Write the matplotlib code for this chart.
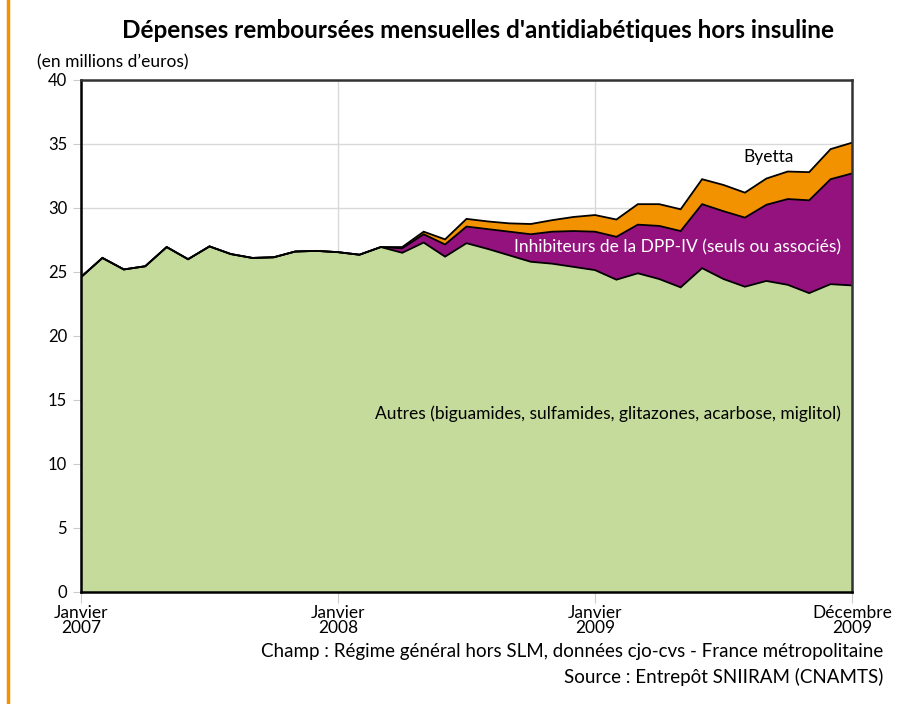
import numpy as np
import matplotlib
matplotlib.use("Agg")
from matplotlib import pyplot as plt
from matplotlib.lines import Line2D

plt.rcParams['font.family'] = ['Lato', 'DejaVu Sans']

# monthly values, Jan 2007 .. end 2009 (millions of euros)
autres = [24.6, 26.1, 25.2, 25.45, 26.95, 26.0, 27.0, 26.4, 26.1, 26.15, 26.6, 26.65,
          26.55, 26.35, 26.95, 26.5, 27.3, 26.2, 27.25, 26.8, 26.3, 25.8, 25.65, 25.4,
          25.15, 24.4, 24.9, 24.45, 23.8, 25.3, 24.45, 23.85, 24.3, 24.0, 23.35, 24.05, 23.95]
dpp4 = [0, 0, 0, 0, 0, 0, 0, 0, 0, 0, 0, 0,
        0, 0, 0, 0.35, 0.65, 0.95, 1.3, 1.55, 1.85, 2.15, 2.5, 2.8,
        3.0, 3.35, 3.8, 4.15, 4.4, 5.0, 5.3, 5.4, 5.95, 6.7, 7.25, 8.2, 8.75]
byetta = [0, 0, 0, 0, 0, 0, 0, 0, 0, 0, 0, 0,
          0, 0, 0, 0.1, 0.2, 0.4, 0.6, 0.6, 0.65, 0.8, 0.9, 1.1,
          1.3, 1.35, 1.6, 1.7, 1.7, 1.95, 2.05, 1.95, 2.05, 2.15, 2.2, 2.35, 2.4]
tick_pos = [0, 12, 24, 36]
tick_labels = ['Janvier\n2007', 'Janvier\n2008', 'Janvier\n2009', 'Décembre\n2009']

x = np.arange(len(autres))
c_green, c_purple, c_orange = '#c5db9b', '#93127e', '#f39200'

fig = plt.figure(figsize=(9.12, 7.04), dpi=100)
ax = fig.add_axes([81/912, 1-592/704, (852-81)/912, (592-80)/704])

ax.stackplot(x, autres, dpp4, byetta, colors=[c_green, c_purple, c_orange], zorder=2)
# outline of each layer
top1 = np.array(autres)
top2 = top1 + np.array(dpp4)
top3 = top2 + np.array(byetta)
for t in (top1, top2, top3):
    ax.plot(x, t, color='black', lw=1.3, zorder=3, solid_joinstyle='miter')

ax.set_xlim(0, 36)
ax.set_ylim(0, 40)
ax.set_yticks(range(0, 41, 5))
ax.set_xticks(tick_pos)
ax.set_xticklabels(tick_labels, fontsize=12.5, linespacing=0.95)
ax.tick_params(axis='y', labelsize=12, length=6, color='#cccccc', pad=4)
ax.tick_params(axis='x', length=8, color='#cccccc', pad=1)
ax.grid(True, color='#d9d9d9', lw=1, zorder=0)
ax.set_axisbelow(True)
for s in ('left', 'bottom'):
    ax.spines[s].set_color('black')
    ax.spines[s].set_linewidth(1.8)
for s in ('top', 'right'):
    ax.spines[s].set_color('#333333')
    ax.spines[s].set_linewidth(1.8)
for s in ax.spines.values():
    s.set_zorder(5)

ax.text(32.1, 34.0, 'Byetta', fontsize=12.5, ha='center', va='center', zorder=4)
ax.text(35.5, 26.9, 'Inhibiteurs de la DPP-IV (seuls ou associés)', fontsize=12.5,
        color='white', ha='right', va='center', zorder=4)
ax.text(35.5, 13.9, 'Autres (biguamides, sulfamides, glitazones, acarbose, miglitol)',
        fontsize=12.5, ha='right', va='center', zorder=4)

fig.text(478/912, 1-30/704, "Dépenses remboursées mensuelles d'antidiabétiques hors insuline",
         fontsize=17.5, fontweight='bold', ha='center', va='center')
fig.text(37/912, 1-62/704, "(en millions d’euros)", fontsize=12.5, ha='left', va='center')
fig.text(883/912, 1-652/704, 'Champ : Régime général hors SLM, données cjo-cvs - France métropolitaine',
         fontsize=13.5, ha='right', va='center')
fig.text(883/912, 1-677/704, 'Source : Entrepôt SNIIRAM (CNAMTS)',
         fontsize=13.5, ha='right', va='center')

# orange bar on the left edge
fig.add_artist(Line2D([8/912, 8/912], [0, 1], color=c_orange, lw=2.5, transform=fig.transFigure))

fig.savefig('out.png', dpi=100)
